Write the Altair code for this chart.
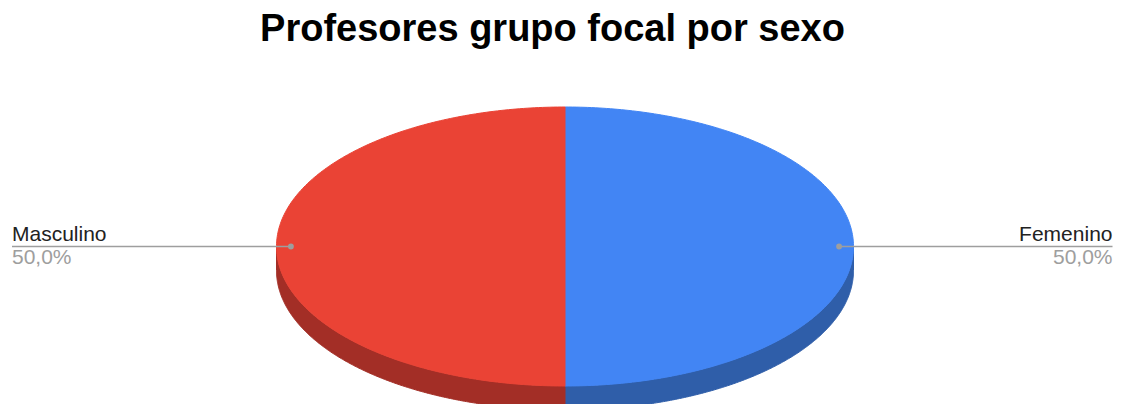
import altair as alt
import numpy as np
import pandas as pd

# ---- data ----
title_text = "Profesores grupo focal por sexo"
categories = ["Femenino", "Masculino"]
values = [50, 50]
top_colors = ["#4285F4", "#EA4335"]
side_colors = ["#2F5EA9", "#A32E26"]

# ---- layout (pixels) ----
W = 1105
PAD_TOP = 62
H = 396 - PAD_TOP
CX = 557.0
CY = 246.5 - 8 - PAD_TOP
R = 288.5
TILT = 139.5 / R
DEPTH = 24.0 / R
DOT_R = 0.95
x_dom = [-CX / R, (W - CX) / R]
y_dom = [-(H - CY) / R, CY / R]

total = float(sum(values))
poly = []
labels = []
start = 0.0
N = 240
for cat, v in zip(categories, values):
    a1 = start / total * 360.0
    a2 = (start + v) / total * 360.0
    start += v
    th = np.radians(np.linspace(a1, a2, N))
    pts = [(0.0, 0.0)] + [(float(np.sin(t)), float(np.cos(t) * TILT)) for t in th] + [(0.0, 0.0)]
    for i, (x, y) in enumerate(pts):
        poly.append(dict(shape=cat + " top", part="top", i=i, x=x, y=y))
    s, e = max(a1, 90.0), min(a2, 270.0)
    if s < e:
        th = np.radians(np.linspace(s, e, N))
        up = [(float(np.sin(t)), float(np.cos(t) * TILT)) for t in th]
        lo = [(x, y - DEPTH) for x, y in reversed(up)]
        for i, (x, y) in enumerate(up + lo + [up[0]]):
            poly.append(dict(shape=cat + " side", part="side", i=i, x=x, y=y))
    mid = np.radians((a1 + a2) / 2)
    dx, dy = float(DOT_R * np.sin(mid)), float(DOT_R * np.cos(mid) * TILT)
    right = np.sin(mid) >= 0
    edge = x_dom[0] + ((W - 0.5) if right else 4) / R
    pct = f"{v / total * 100:.1f}%".replace(".", ",")
    labels.append(dict(cat=cat, pct=pct, dx=dx, dy=dy, ex=edge,
                       side="right" if right else "left"))

pdf = pd.DataFrame(poly)
ldf = pd.DataFrame(labels)

xs = alt.Scale(domain=x_dom, nice=False, zero=False)
ys = alt.Scale(domain=y_dom, nice=False, zero=False)
shape_dom = [c + " side" for c in categories] + [c + " top" for c in categories]
shape_rng = side_colors + top_colors


def faces(part):
    return alt.Chart(pdf).transform_filter(alt.datum.part == part).mark_line(
        clip=True, strokeWidth=1
    ).encode(
        x=alt.X("x:Q", scale=xs, axis=None),
        y=alt.Y("y:Q", scale=ys, axis=None),
        detail="shape:N",
        order="i:Q",
        fill=alt.Fill("shape:N", scale=alt.Scale(domain=shape_dom, range=shape_rng), legend=None),
        stroke=alt.Stroke("shape:N", scale=alt.Scale(domain=shape_dom, range=shape_rng), legend=None),
    )


lb = alt.Chart(ldf)
leader = lb.mark_rule(color="#9E9E9E", strokeWidth=1.4).encode(
    x=alt.X("dx:Q", scale=xs, axis=None),
    x2="ex:Q",
    y=alt.Y("dy:Q", scale=ys, axis=None),
)
dots = lb.mark_point(filled=True, size=34, color="#9E9E9E", opacity=1).encode(
    x=alt.X("dx:Q", scale=xs, axis=None),
    y=alt.Y("dy:Q", scale=ys, axis=None),
)


def texts(side):
    b = lb.transform_filter(alt.datum.side == side)
    name = b.mark_text(align=side, baseline="alphabetic", dy=-5.5, fontSize=21,
                       font="Liberation Sans", color="#222222").encode(
        x=alt.X("ex:Q", scale=xs, axis=None),
        y=alt.Y("dy:Q", scale=ys, axis=None),
        text="cat:N",
    )
    pc = b.mark_text(align=side, baseline="alphabetic", dy=17, fontSize=21,
                     font="Liberation Sans", color="#9E9E9E").encode(
        x=alt.X("ex:Q", scale=xs, axis=None),
        y=alt.Y("dy:Q", scale=ys, axis=None),
        text="pct:N",
    )
    return name + pc


chart = alt.layer(
    faces("side"), faces("top"), leader, dots, texts("left"), texts("right")
).properties(
    width=W,
    height=H,
    padding={"left": 0, "right": 0, "top": PAD_TOP, "bottom": 0},
    autosize="none",
    title=alt.TitleParams(title_text, fontSize=38, font="Liberation Sans",
                          fontWeight="bold", color="#000000", anchor="middle",
                          baseline="alphabetic", offset=24, dy=33, dx=-8),
    background="white",
).configure_view(stroke=None)

chart.save("out.html", embed_options={"renderer": "svg", "actions": False})
